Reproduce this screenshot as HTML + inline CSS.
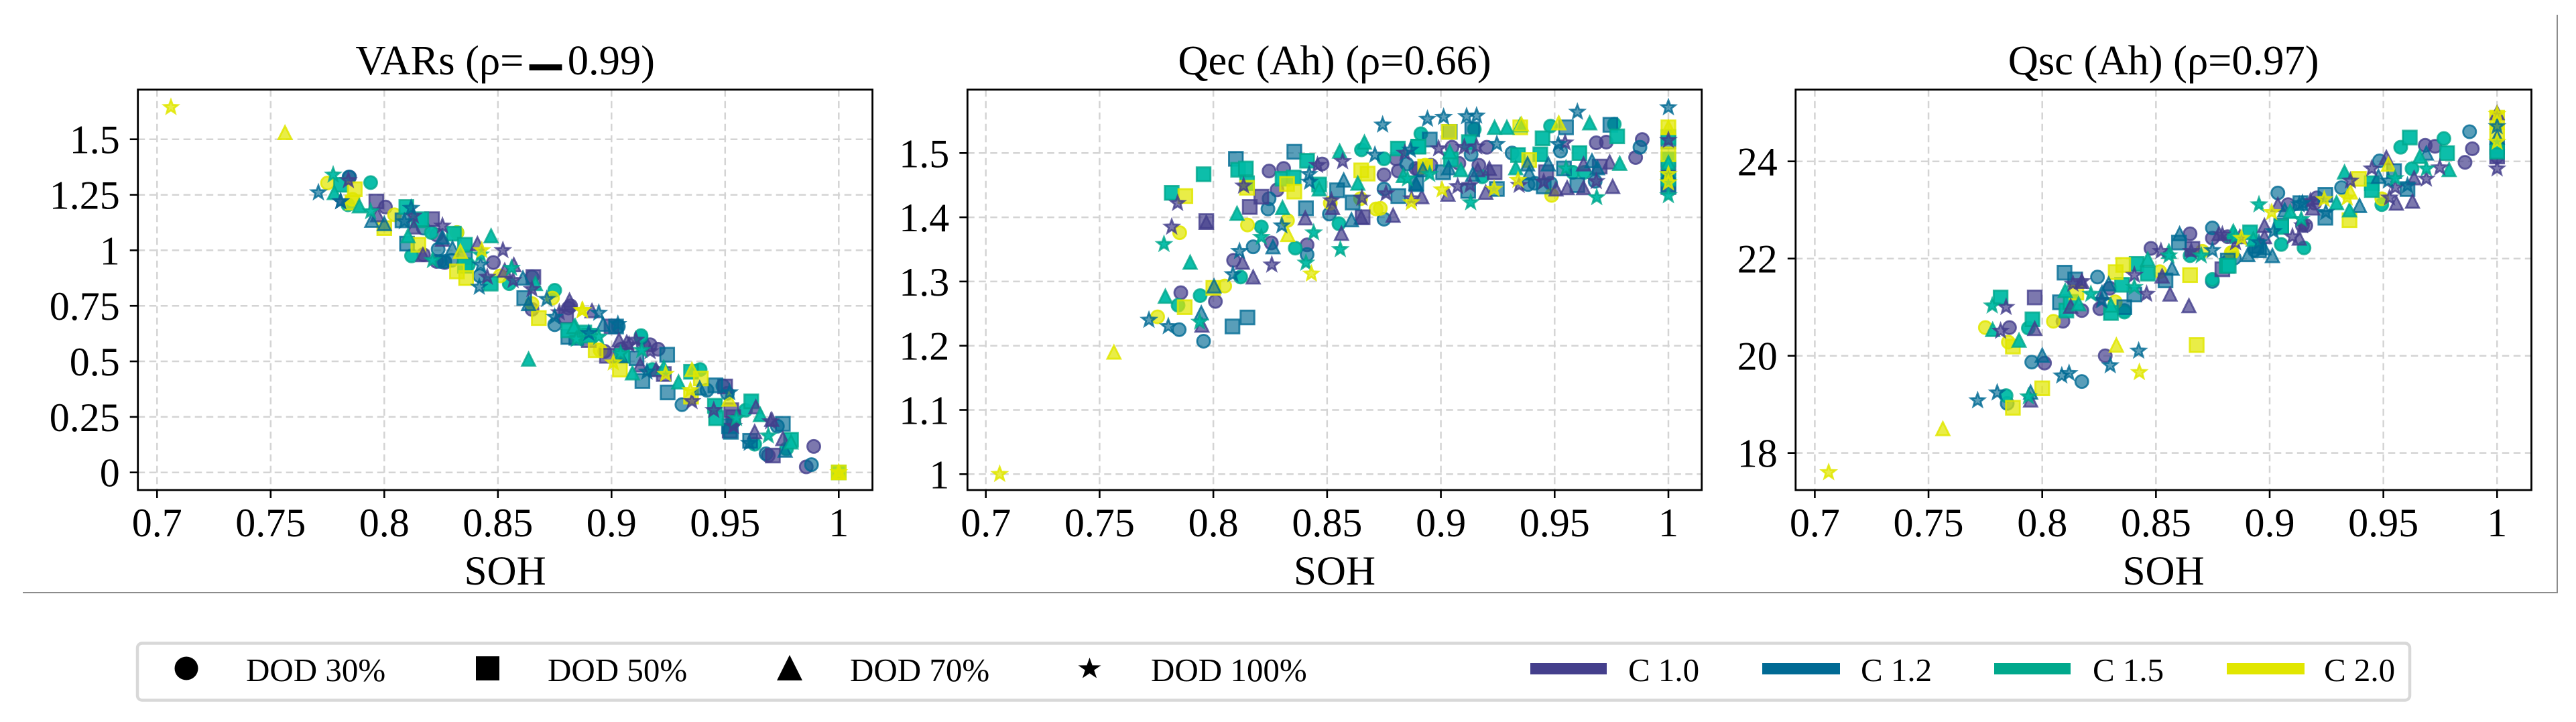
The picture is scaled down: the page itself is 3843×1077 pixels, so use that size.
<!DOCTYPE html>
<html lang="en">
<head>
<meta charset="utf-8">
<title>SOH correlation scatter plots</title>
<style>
html,body{margin:0;padding:0;background:#fff;}
body{width:3843px;height:1077px;overflow:hidden;}
svg{display:block;}
text{font-family:"Liberation Serif","DejaVu Serif",serif;fill:#000;}
</style>
</head>
<body>
<svg id="figure" xmlns="http://www.w3.org/2000/svg" width="3843" height="1077" viewBox="0 0 3843 1077">
  <rect x="0" y="0" width="3843" height="1077" fill="#ffffff"/>
  <path d="M34 884H3815V22" fill="none" stroke="#8c8c8c" stroke-width="2"/>
  <g id="plots"></g>
  <g>
    <rect x="205" y="959.5" width="3390" height="85" rx="7" fill="#ffffff" stroke="#d8d8d8" stroke-width="4.5"/>
    <g>
      <ellipse cx="278" cy="997" rx="17.5" ry="17.5" fill="#000"/>
      <text x="367" y="1016" font-size="49">DOD 30%</text>
    </g>
    <g>
      <rect x="710" y="979" width="35" height="36" fill="#000"/>
      <text x="817" y="1016" font-size="49">DOD 50%</text>
    </g>
    <g>
      <path d="M1178 977L1197 1015H1159Z" fill="#000"/>
      <text x="1268" y="1016" font-size="49">DOD 70%</text>
    </g>
    <g>
      <path d="M1625.5 981L1629.6 992.4L1642.6 992.5L1632.2 999.6L1636.1 1011.5L1625.5 1004.4L1614.9 1011.5L1618.8 999.6L1608.4 992.5L1621.4 992.4Z" fill="#000"/>
      <text x="1717" y="1016" font-size="49">DOD 100%</text>
    </g>
    <g>
      <rect x="2283" y="989" width="114" height="17" fill="#443f8c"/>
      <text x="2429" y="1016" font-size="49">C 1.0</text>
    </g>
    <g>
      <rect x="2629" y="989" width="116" height="17" fill="#006a94"/>
      <text x="2776" y="1016" font-size="49">C 1.2</text>
    </g>
    <g>
      <rect x="2975" y="989" width="114" height="17" fill="#00a88c"/>
      <text x="3122" y="1016" font-size="49">C 1.5</text>
    </g>
    <g>
      <rect x="3322" y="989" width="116" height="17" fill="#e1e600"/>
      <text x="3467" y="1016" font-size="49">C 2.0</text>
    </g>
  </g>
</svg>
<script>
// Axis tick values and labels
const xTickValues = [0.7, 0.75, 0.8, 0.85, 0.9, 0.95, 1];
const xTickLabels = ["0.7", "0.75", "0.8", "0.85", "0.9", "0.95", "1"];
const varsTickValues = [0, 0.25, 0.5, 0.75, 1, 1.25, 1.5];
const varsTickLabels = ["0", "0.25", "0.5", "0.75", "1", "1.25", "1.5"];
const qecTickValues = [1, 1.1, 1.2, 1.3, 1.4, 1.5];
const qecTickLabels = ["1", "1.1", "1.2", "1.3", "1.4", "1.5"];
const qscTickValues = [18, 20, 22, 24];
const qscTickLabels = ["18", "20", "22", "24"];

// VARs panel. o=DOD 30, s=DOD 50, t=DOD 70, a=DOD 100; 10/12/15/20 = C rate
const vars_o10_x = [.7847,.8005,.823,.8266,.848,.865,.881,.8172,.882,.989,.9857,.9205,.917,.897,.969,.9042,.914,.823,.9537];
const vars_o10_y = [1.33,1.195,.95,.945,.945,.734,.74,.98,.75,.117,.025,.555,.575,.545,.076,.555,.575,1.07,.229];
const vars_o12_x = [.7845,.8237,.8266,.842,.875,.865,.988,.931,.968,.903,.913,.942,.949,.951,.973,.8875,.8246,.8296,.8172];
const vars_o12_y = [1.33,1.005,.95,.885,.665,.88,.035,.305,.084,.657,.606,.37,.39,.356,.208,.616,.95,.955,1.1];
const vars_o15_x = [.794,.812,.875,.855,.837,.832,.784,.963,.977,.918,.959,.913,.939,.8207];
const vars_o15_y = [1.305,.975,.82,.85,.935,1.08,1.205,.127,.106,.463,.28,.616,.463,1.08];
const vars_o20_x = [.775,.786,.8045,.832,.874,.865,.851,.895];
const vars_o20_y = [1.303,1.23,1.16,1.08,.785,.76,.885,.55];
const vars_s10_x = [.7965,.821,.8656,.88,.95,.971,.898,.952,.923,.9,.89,.9536,.9527];
const vars_s10_y = [1.22,1.14,.88,.705,.387,.076,.525,.188,.443,.657,.596,.249,.28];
const vars_s12_x = [.808,.81,.8616,.881,.9136,.9247,.9245,.902,.9754,.9457,.9525,.961,.8845,.911,.8355,.9517];
const vars_s12_y = [1.135,1.03,.785,.61,.412,.36,.53,.657,.219,.392,.183,.142,.606,.514,.97,.208];
const vars_s15_x = [.8097,.815,.781,.8306,.8355,.8468,.881,.888,.935,.9455,.946,.9615,.979,.9047,1,.8902,.8355,.8163];
const vars_s15_y = [1.195,1.135,1.295,1.075,1.025,.85,.64,.63,.453,.3,.244,.32,.147,.525,0,.616,.93,1.14];
const vars_s20_x = [.787,.786,.8,.815,.832,.836,.868,.893,.9037,.9393,.935,1];
const vars_s20_y = [1.275,1.215,1.1,1.025,.905,.875,.695,.55,.463,.423,.341,0];
const vars_t10_x = [.817,.8256,.841,.853,.857,.8815,.797,.813,.8914,.9033,.9126,.963,.9754,.9635,.9196,.9067,.9705];
const vars_t10_y = [.98,1.05,1.03,.91,.935,.775,1.16,1.105,.728,.596,.484,.183,.152,.295,.463,.586,.239];
const vars_t12_x = [.7945,.8635,.861,.83,.8,.9388,.9764,.8963,.904,.8256];
const vars_t12_y = [1.135,.76,.875,1.01,1.12,.38,.1,.667,.525,1.06];
const vars_t15_x = [.778,.789,.8104,.847,.8635,.8665,.884,.9092,.923,.9295,.9655,.979,.8835];
const vars_t15_y = [1.26,1.2,1.065,1.065,.51,.85,.66,.448,.473,.407,.26,.137,.657];
const vars_t20_x = [.7563,.8335,.9354,.9517,1];
const vars_t20_y = [1.53,.995,.463,.33,0];
const vars_a10_x = [.7842,.7808,.8256,.8128,.8522,.8453,.8567,.865,.877,.9107,.9077,.9354,.945,.9537,.97,.917];
const vars_a10_y = [1.315,1.22,1.11,1.155,1,.88,.865,.825,.72,.596,.575,.32,.28,.208,.229,.545];
const vars_a12_x = [.771,.7808,.8118,.8088,.8424,.8418,.8715,.875,.8944,.89,.9028,.9156,.9606,.952];
const vars_a12_y = [1.26,1.22,1.19,1.13,.935,.835,.78,.7,.718,.627,.667,.453,.132,.36];
const vars_a15_x = [.7775,.794,.8212,.856,.8853,.8424,.8845,.8944,.9133,.904,.955,.969];
const vars_a15_y = [1.34,1.175,.955,.92,.605,.98,.6,.61,.55,.535,.244,.165];
const vars_a20_x = [.7061,.8429,.8873,.887,.9008,.9238,.9347,1];
const vars_a20_y = [1.644,1,.73,.729,.494,.443,.37,0];

// Qec panel
const qec_o10_x = [.7857,.8009,.8089,.8245,.8309,.828,.8255,.8412,.8478,.875,.8813,.889,.8803,.8902,.8956,.9049,.9167,.9202,.9683,.9727,.9885,.9856,.9079,1];
const qec_o10_y = [1.2825,1.269,1.333,1.472,1.476,1.4426,1.36,1.357,1.483,1.466,1.472,1.476,1.491,1.474,1.481,1.509,1.481,1.509,1.516,1.517,1.521,1.493,1.484,1.465];
const qec_o12_x = [.785,.7957,.8175,.824,.8245,.8412,.851,.875,.875,.885,.9133,.9313,.9678,.9383,.9526,.9482,.9875,.9413,1];
const qec_o12_y = [1.225,1.207,1.354,1.413,1.429,1.342,1.405,1.397,1.444,1.483,1.498,1.5,1.456,1.451,1.503,1.453,1.509,1.453,1.47];
const qec_o15_x = [.7845,.7942,.812,.8211,.836,.8552,.8651,.875,.8912,.9147,.9482,.9762,.958,.963,.9182];
const qec_o15_y = [1.263,1.278,1.307,1.385,1.352,1.39,1.505,1.491,1.53,1.537,1.542,1.545,1.47,1.47,1.463];
const qec_o20_x = [.7755,.7852,.805,.815,.8326,.8514,.8715,.8734,.8647,.9487,.8931];
const qec_o20_y = [1.245,1.376,1.293,1.388,1.395,1.422,1.413,1.414,1.429,1.434,1.481];
const qec_s10_x = [.7969,.816,.8211,.8656,.9236,.9698,.9462,1,1];
const qec_s10_y = [1.394,1.416,1.432,1.4,1.47,1.479,1.47,1.477,1.447];
const qec_s12_x = [.8099,.8084,.815,.8356,.8544,.8407,.8612,.8813,.8951,.9039,.9138,.9246,.912,.955,.9745,.9452,.96,.9541,.8892,.901,1,1];
const qec_s12_y = [1.491,1.23,1.244,1.502,1.442,1.414,1.423,1.433,1.521,1.533,1.537,1.444,1.441,1.54,1.544,1.448,1.45,1.476,1.453,1.47,1.518,1.451];
const qec_s15_x = [.7957,.7817,.8109,.8143,.8148,.8304,.8353,.8412,.8465,.8811,.89,.8902,.9123,.9044,.9447,.9437,.9609,.9775,.9339,1,1,1];
const qec_s15_y = [1.467,1.438,1.474,1.476,1.453,1.46,1.462,1.488,1.451,1.507,1.51,1.51,1.517,1.49,1.523,1.498,1.5,1.526,1.497,1.525,1.49,1.46];
const qec_s20_x = [.7877,.8148,.7874,.8,.8324,.8356,.865,.8678,.9036,.9349,.9388,.8931,1,1];
const qec_s20_y = [1.433,1.446,1.26,1.29,1.452,1.44,1.473,1.468,1.533,1.54,1.489,1.479,1.54,1.498];
const qec_t10_x = [.7969,.795,.8128,.8175,.8404,.8563,.8524,.865,.879,.8916,.9031,.9197,.9213,.9555,.9627,.9755,.9627,.9742,.9506,.9162];
const qec_t10_y = [1.392,1.232,1.33,1.307,1.399,1.375,1.415,1.4,1.403,1.432,1.436,1.439,1.476,1.446,1.446,1.448,1.483,1.486,1.444,1.474];
const qec_t12_x = [.7947,.8003,.8262,.8573,.8607,.889,.8921,.9034,.914,.8892,.9388,.9472,.9664,.9688,.9381,1];
const qec_t12_y = [1.251,1.293,1.354,1.458,1.396,1.453,1.474,1.477,1.467,1.451,1.469,1.483,1.488,1.477,1.483,1.47];
const qec_t15_x = [.7789,.7898,.8104,.8304,.8465,.8555,.8635,.8664,.8835,.9236,.929,.9349,.9654,.9786,.9329,.9088,.9039,1];
const qec_t15_y = [1.277,1.33,1.406,1.415,1.444,1.503,1.453,1.517,1.465,1.54,1.54,1.544,1.547,1.484,1.477,1.474,1.502,1.485];
const qec_t20_x = [.7563,.8327,.9354,.9518,1];
const qec_t20_y = [1.19,1.373,1.545,1.547,1.54];
const qec_a10_x = [.7843,.7817,.8133,.8257,.8458,.8568,.8519,.8653,.8759,.8871,.8842,.899,.9103,.9157,.9128,.9074,.9452,.9546,.9683,.9344,1];
const qec_a10_y = [1.422,1.385,1.449,1.326,1.481,1.487,1.426,1.43,1.437,1.429,1.5,1.507,1.509,1.51,1.45,1.448,1.455,1.516,1.456,1.45,1.52];
const qec_a12_x = [.7717,.7802,.8115,.8086,.8301,.8421,.8423,.8744,.871,.8866,.8941,.9012,.9113,.9157,.9246,.96,.9516,1];
const qec_a12_y = [1.24,1.23,1.347,1.311,1.387,1.467,1.455,1.544,1.497,1.505,1.553,1.556,1.557,1.558,1.514,1.564,1.514,1.571];
const qec_a15_x = [.7783,.794,.8211,.8407,.8441,.8558,.8951,.9131,.955,.9685,.8853,1];
const qec_a15_y = [1.358,1.237,1.369,1.329,1.376,1.35,1.467,1.423,1.476,1.431,1.46,1.434];
const qec_a20_x = [.7061,.8431,.887,.9005,.9234,.9339,1,1];
const qec_a20_y = [1,1.312,1.423,1.443,1.444,1.458,1.467,1.454];

// Qsc panel
const qsc_o10_x = [.8478,.865,.8748,.7856,.801,.8091,.8174,.8253,.8277,.8297,.9081,.9144,.9208,.9684,.9727,.9891,.9859,.8815,1,.9198,.9159];
const qsc_o10_y = [22.21,22.51,22.42,20.58,19.85,20.71,20.93,20.97,20,21.39,23.11,22.68,23.25,24.33,24.31,24.26,23.98,22.45,24.1,23.14,22.68];
const qsc_o12_x = [.7954,.7846,.8174,.8243,.8361,.8748,.8748,.8816,.9036,.9316,.9483,.9879,.8845,1,.8933];
const qsc_o12_y = [19.87,19.02,19.47,21.62,20.93,21.53,22.63,21.94,23.35,23.46,24.01,24.61,22.01,24.3,22.17];
const qsc_o15_x = [.7939,.7841,.8748,.8361,.865,.9051,.9151,.9576,.9766,.9626,.9493];
const qsc_o15_y = [20.57,19.18,21.57,20.9,22.06,22.29,22.22,24.29,24.47,23.85,23.11];
const qsc_o20_x = [.775,.7851,.8049,.8321,.8704,.8517,.8831,.9493,.8835];
const qsc_o20_y = [20.58,20.28,20.71,21.11,22.15,21.73,22.12,23.23,22.12];
const qsc_s10_x = [.7967,.8792,.866,.8815,1];
const qsc_s10_y = [21.2,21.78,22.2,21.85,24.1];
const qsc_s12_x = [.8098,.8145,.8078,.8405,.8542,.8361,.8601,.8816,.9245,.9245,.9606,.9051,.9547,.8953,1,.8943,.9135];
const qsc_s12_y = [21.71,21.57,21.1,21.26,21.55,21,22.33,21.96,23.31,22.84,23.43,22.68,23.8,22.17,24.3,22.26,23.14];
const qsc_s15_x = [.7817,.7957,.8106,.8302,.8351,.8415,.8464,.8811,.8125,.9616,.978,.9449,.9449,.9051,.882,.8914,1];
const qsc_s15_y = [21.2,20.75,20.93,20.88,21.46,21.89,21.69,21.85,21.11,24.49,24.17,23.55,23.41,22.65,21.85,22.54,24.2];
const qsc_s20_x = [.8,.7871,.7871,.8323,.8356,.865,.8679,.815,.9392,.9351,1,1];
const qsc_s20_y = [19.33,18.93,20.19,21.72,21.87,21.66,20.22,21.3,23.64,22.79,24.6,24.9];
const qsc_t10_x = [.7967,.7949,.8125,.8174,.8527,.8562,.8645,.8777,.9036,.8977,.913,.9557,.9628,.9635,.9513,.8869,.8977,1,.9189];
const qsc_t10_y = [20.56,19.09,21.02,21.53,21.64,21.27,21.03,22.51,23.11,22.68,22.42,23.14,23.18,23.66,24.08,22.45,22.45,25,23.04];
const qsc_t12_x = [.8,.7949,.8292,.8263,.8604,.8571,.9012,.8904,.9395,.9478,.9689,.9066,.8975,1];
const qsc_t12_y = [20.01,19.25,21.48,21.3,22.51,21.8,22.06,22.08,23.09,23.69,24.17,23,22.22,24.5];
const qsc_t15_x = [.7782,.7898,.8101,.816,.8302,.8464,.8557,.8836,.9329,.9294,.9351,.884,.909,.966,.9789,.8928,1];
const qsc_t15_y = [20.54,20.32,21.34,21.07,21.04,21.99,22.15,22.49,23.78,23.15,23,22.56,22.97,24.1,23.83,22.4,24.4];
const qsc_t20_x = [.7563,.8326,.9355,.9522,1];
const qsc_t20_y = [18.5,20.22,23.37,23.94,24.8];
const qsc_a10_x = [.7841,.7817,.8135,.8174,.8258,.8405,.8459,.8522,.8655,.8792,.91,.9144,.9449,.9689,.9748,.9355,.9527,.9552,.9179,.885,1];
const qsc_a10_y = [21,20.51,21.48,21.53,21.14,21.66,21.27,22.15,22.15,22.49,22.45,22.68,23.85,23.64,23.87,23.6,23.25,23.46,23.18,22.33,23.85];
const qsc_a12_x = [.7716,.7802,.8086,.8118,.8299,.8424,.8263,.8748,.913,.9247,.9606,.9017,.9522,.8953,.9144,1];
const qsc_a12_y = [19.08,19.24,19.59,19.64,19.8,20.1,21.14,22.17,23.11,22.95,23.5,22.56,23.6,22.33,23.14,24.72];
const qsc_a15_x = [.778,.7939,.8214,.8405,.8557,.8699,.8953,.9139,.9552,.9689,.885];
const qsc_a15_y = [21.03,19.16,21.27,21.41,22.06,22.06,23.11,22.81,23.65,23.85,22.45];
const qsc_a20_x = [.7061,.8427,.9009,.8876,.924,.9341,1,1];
const qsc_a20_y = [17.6,19.66,22.95,22.42,23.22,23.25,24.97,24.4];

// Panels: frame and axis limits
const panelTitles = ["VARs (\u03C1=\u22120.99)", "Qec (Ah) (\u03C1=0.66)", "Qsc (Ah) (\u03C1=0.97)"];
const xAxisTitle = "SOH";
const panels = [
  {left: 205.7, right: 1301.6, xMin: .69156, xMax: 1.01484, yMin: -.0794, yMax: 1.7235, ticks: varsTickValues, labels: varsTickLabels},
  {left: 1443.3, right: 2538.7, xMin: .69193, xMax: 1.01464, yMin: .97526, yMax: 1.59875, ticks: qecTickValues, labels: qecTickLabels},
  {left: 2678.8, right: 3776.5, xMin: .69157, xMax: 1.01509, yMin: 17.237, yMax: 25.476, ticks: qscTickValues, labels: qscTickLabels}
];
const plotTop = 133.7;
const plotBottom = 731;

const rateStyles = [
  {fill: "#443f8c", fillOpacity: .7, stroke: "#443f8c", strokeOpacity: .8},
  {fill: "#006a94", fillOpacity: .65, stroke: "#006a94", strokeOpacity: .8},
  {fill: "#00bba5", fillOpacity: .95, stroke: "#00a88c", strokeOpacity: .8},
  {fill: "#e1e600", fillOpacity: .72, stroke: "#e1e600", strokeOpacity: .85}
];
const markerShapes = ["circle", "square", "triangle", "star"];

// Draw order: marker group first, then rate inside it.
const seriesTable = [
  [[[vars_o10_x,vars_o10_y],[vars_o12_x,vars_o12_y],[vars_o15_x,vars_o15_y],[vars_o20_x,vars_o20_y]],
   [[vars_s10_x,vars_s10_y],[vars_s12_x,vars_s12_y],[vars_s15_x,vars_s15_y],[vars_s20_x,vars_s20_y]],
   [[vars_t10_x,vars_t10_y],[vars_t12_x,vars_t12_y],[vars_t15_x,vars_t15_y],[vars_t20_x,vars_t20_y]],
   [[vars_a10_x,vars_a10_y],[vars_a12_x,vars_a12_y],[vars_a15_x,vars_a15_y],[vars_a20_x,vars_a20_y]]],
  [[[qec_o10_x,qec_o10_y],[qec_o12_x,qec_o12_y],[qec_o15_x,qec_o15_y],[qec_o20_x,qec_o20_y]],
   [[qec_s10_x,qec_s10_y],[qec_s12_x,qec_s12_y],[qec_s15_x,qec_s15_y],[qec_s20_x,qec_s20_y]],
   [[qec_t10_x,qec_t10_y],[qec_t12_x,qec_t12_y],[qec_t15_x,qec_t15_y],[qec_t20_x,qec_t20_y]],
   [[qec_a10_x,qec_a10_y],[qec_a12_x,qec_a12_y],[qec_a15_x,qec_a15_y],[qec_a20_x,qec_a20_y]]],
  [[[qsc_o10_x,qsc_o10_y],[qsc_o12_x,qsc_o12_y],[qsc_o15_x,qsc_o15_y],[qsc_o20_x,qsc_o20_y]],
   [[qsc_s10_x,qsc_s10_y],[qsc_s12_x,qsc_s12_y],[qsc_s15_x,qsc_s15_y],[qsc_s20_x,qsc_s20_y]],
   [[qsc_t10_x,qsc_t10_y],[qsc_t12_x,qsc_t12_y],[qsc_t15_x,qsc_t15_y],[qsc_t20_x,qsc_t20_y]],
   [[qsc_a10_x,qsc_a10_y],[qsc_a12_x,qsc_a12_y],[qsc_a15_x,qsc_a15_y],[qsc_a20_x,qsc_a20_y]]]
];

const NS = "http://www.w3.org/2000/svg";
const plotsRoot = document.getElementById("plots");

function makeEl(tag, parent) {
  const el = document.createElementNS(NS, tag);
  parent.appendChild(el);
  return el;
}
function setAll(el, attrs) {
  Object.keys(attrs).forEach(function (k) { el.setAttribute(k, attrs[k]); });
}
function starPath(cx, cy, R) {
  const r = R * 0.42;
  let d = "";
  for (let i = 0; i < 10; i++) {
    const rad = i % 2 === 0 ? R : r;
    const a = -Math.PI / 2 + i * Math.PI / 5;
    d += (i === 0 ? "M" : "L") + (cx + rad * Math.cos(a)).toFixed(2) + " " + (cy + rad * Math.sin(a)).toFixed(2);
  }
  return d + "Z";
}
function drawMarker(parent, shape, px, py, style) {
  let el;
  if (shape === "circle") {
    el = makeEl("circle", parent);
    setAll(el, {cx: px, cy: py, r: 9.6});
  } else if (shape === "square") {
    el = makeEl("rect", parent);
    setAll(el, {x: px - 10.3, y: py - 10.3, width: 20.6, height: 20.6});
  } else if (shape === "triangle") {
    el = makeEl("path", parent);
    setAll(el, {d: "M" + px + " " + (py - 9.8) + "L" + (px + 9.8) + " " + (py + 9.8) + "H" + (px - 9.8) + "Z"});
  } else {
    el = makeEl("path", parent);
    setAll(el, {d: starPath(px, py, 10.8)});
  }
  setAll(el, {fill: style.fill, "fill-opacity": style.fillOpacity, stroke: style.stroke, "stroke-opacity": style.strokeOpacity, "stroke-width": 2.8});
  
  
}

panels.forEach(function (p, pi) {
  const xScale = function (v) { return p.left + (v - p.xMin) / (p.xMax - p.xMin) * (p.right - p.left); };
  const yScale = function (v) { return plotBottom - (v - p.yMin) / (p.yMax - p.yMin) * (plotBottom - plotTop); };
  const midX = (p.left + p.right) / 2;

  const g = makeEl("g", plotsRoot);
  
  

  const gridG = makeEl("g", g);
  
  
  xTickValues.forEach(function (v) {
    const line = makeEl("line", gridG);
    setAll(line, {x1: xScale(v), x2: xScale(v), y1: plotTop, y2: plotBottom, stroke: "#d4d4d4", "stroke-width": 2.5, "stroke-dasharray": "10.5 6.5"});
    
    
  });
  p.ticks.forEach(function (v) {
    const line = makeEl("line", gridG);
    setAll(line, {x1: p.left, x2: p.right, y1: yScale(v), y2: yScale(v), stroke: "#d4d4d4", "stroke-width": 2.5, "stroke-dasharray": "10.5 6.5"});
    
    
  });

  const marksG = makeEl("g", g);
  
  
  seriesTable[pi].forEach(function (byRate, mi) {
    byRate.forEach(function (series, ri) {
      const xs = series[0];
      const ys = series[1];
      xs.forEach(function (x, i) {
        drawMarker(marksG, markerShapes[mi], xScale(x), yScale(ys[i]), rateStyles[ri]);
      });
    });
  });

  const frame = makeEl("rect", g);
  setAll(frame, {x: p.left, y: plotTop, width: p.right - p.left, height: plotBottom - plotTop, fill: "none", stroke: "#000", "stroke-width": 2.8});
  
  

  xTickValues.forEach(function (v, i) {
    const tick = makeEl("line", g);
    setAll(tick, {x1: xScale(v), x2: xScale(v), y1: plotBottom, y2: plotBottom + 12, stroke: "#000", "stroke-width": 2.6});
    
    
    const label = makeEl("text", g);
    setAll(label, {x: xScale(v), y: 800, "text-anchor": "middle", "font-size": 60});
    label.textContent = xTickLabels[i];
    
    
  });
  p.ticks.forEach(function (v, i) {
    const tick = makeEl("line", g);
    setAll(tick, {x1: p.left - 12, x2: p.left, y1: yScale(v), y2: yScale(v), stroke: "#000", "stroke-width": 2.6});
    
    
    const label = makeEl("text", g);
    setAll(label, {x: p.left - 27, y: yScale(v) + 21, "text-anchor": "end", "font-size": 60});
    label.textContent = p.labels[i];
    
    
  });

  const title = makeEl("text", g);
  setAll(title, {x: midX, y: 111, "text-anchor": "middle", "font-size": 62.5});
  const titleParts = panelTitles[pi].split("\u2212");
  if (titleParts.length === 2) {
    const before = makeEl("tspan", title);
    before.textContent = titleParts[0];
    const minus = makeEl("tspan", title);
    setAll(minus, {dy: 14, style: "font-family:'DejaVu Sans',sans-serif;font-weight:bold;font-size:78px"});
    minus.textContent = "\u2212";
    const after = makeEl("tspan", title);
    setAll(after, {dy: -14});
    after.textContent = titleParts[1];
  } else {
    title.textContent = panelTitles[pi];
  }
  
  

  const xLabel = makeEl("text", g);
  setAll(xLabel, {x: midX, y: 872, "text-anchor": "middle", "font-size": 61});
  xLabel.textContent = xAxisTitle;
  
  
});
</script>
</body>
</html>
